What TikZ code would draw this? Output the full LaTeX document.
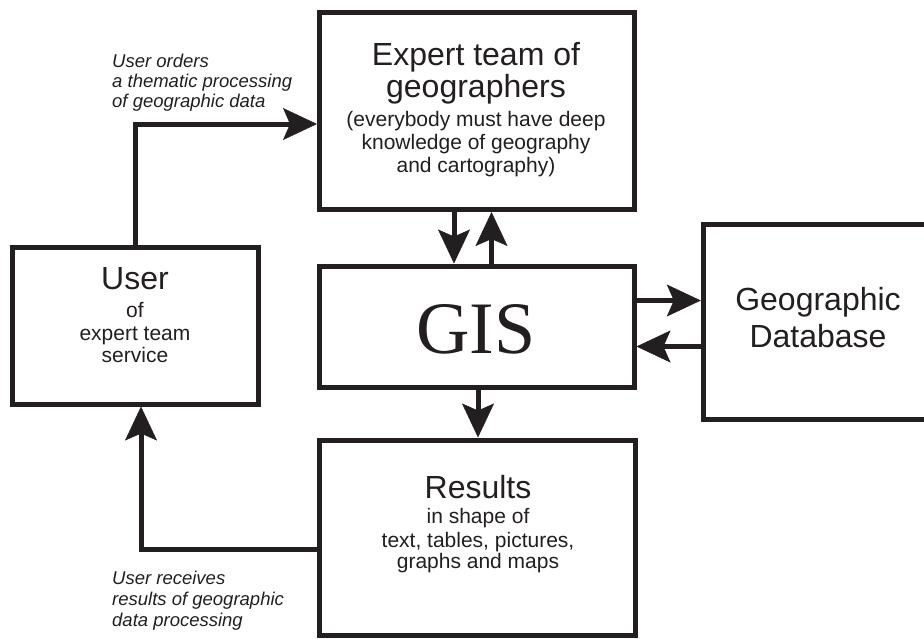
\documentclass[tikz,border=0pt]{standalone}
\usepackage{fontspec}
\setmainfont{Liberation Sans}
\newfontfamily\gisfont{Liberation Serif}
\usetikzlibrary{arrows.meta,calc}
\definecolor{ink}{RGB}{35,31,32}
\tikzset{
  box/.style={draw=ink, line width=5pt, rectangle, inner sep=0pt},
  arr/.style={draw=ink, line width=5pt,
    -{Stealth[length=34pt,width=32pt,inset=7pt,line width=0.5pt]}},
  big/.style={font=\fontsize{32}{36}\selectfont, text=ink, inner sep=0pt, anchor=base},
  small/.style={font=\fontsize{21}{24}\selectfont, text=ink, inner sep=0pt, anchor=base},
  note/.style={font=\fontsize{18.5}{21}\selectfont\itshape, text=ink, inner sep=0pt, anchor=base west},
}
\begin{document}
\begin{tikzpicture}[x=1pt,y=-1pt]
\clip (0,0) rectangle (924,638);
\fill[white] (0,0) rectangle (924,638);

% boxes
\node[box, minimum width=315pt, minimum height=197pt] (exp) at (477,111) {};
\node[box, minimum width=314.5pt, minimum height=121.5pt] (gis) at (476.75,326.75) {};
\node[box, minimum width=229.7pt, minimum height=195.5pt] (db) at (818.15,321.75) {};
\node[box, minimum width=245.5pt, minimum height=156.5pt] (user) at (135.25,325.75) {};
\node[box, minimum width=316pt, minimum height=195pt] (res) at (477.5,537.5) {};

% box texts
\node[big] (expA) at (476,65) {Expert team of};
\node[big] (expB) at (476,97) {geographers};
\node[small] (expC) at (476,126) {(everybody must have deep};
\node[small] (expD) at (476,149) {knowledge of geography};
\node[small] (expE) at (476,172) {and cartography)};

\node[text=ink, inner sep=0pt, anchor=base, font=\gisfont\fontsize{74}{80}\selectfont] (gisT) at (476,353) {GIS};

\node[big] (dbA) at (818,310) {Geographic};
\node[big] (dbB) at (818,347) {Database};

\node[big] (userA) at (135,289) {User};
\node[small] (userB) at (135,317) {of};
\node[small] (userC) at (135,340) {expert team};
\node[small] (userD) at (135,362) {service};

\node[big] (resA) at (478,498) {Results};
\node[small] (resB) at (478,523) {in shape of};
\node[small] (resC) at (478,547) {text, tables, pictures,};
\node[small] (resD) at (478,568) {graphs and maps};

% connector notes
\node[note] (noteA1) at (112,67) {User orders};
\node[note] (noteA2) at (112,87) {a thematic processing};
\node[note] (noteA3) at (112,107) {of geographic data};
\node[note] (noteB1) at (112,584) {User receives};
\node[note] (noteB2) at (112,605) {results of geographic};
\node[note] (noteB3) at (112,626) {data processing};

% connectors
\draw[arr] (user.north) |- ($(exp.west)+(0,13)$);
\draw[arr] ($(exp.south)+(-23,0)$) -- ($(gis.north)+(-22.75,0)$);
\draw[arr] ($(gis.north)+(14.75,0)$) -- ($(exp.south)+(14.5,0)$);
\draw[arr] ($(gis.east)+(0,-26.25)$) -- ($(db.west)+(0,-21.25)$);
\draw[arr] ($(db.west)+(0,24.75)$) -- ($(gis.east)+(0,19.75)$);
\draw[arr] ($(gis.south)+(1.25,0)$) -- ($(res.north)+(0.5,0)$);
\draw[arr] ($(res.west)+(0,11.5)$) -| ($(user.south)+(5.75,0)$);
\end{tikzpicture}
\end{document}
